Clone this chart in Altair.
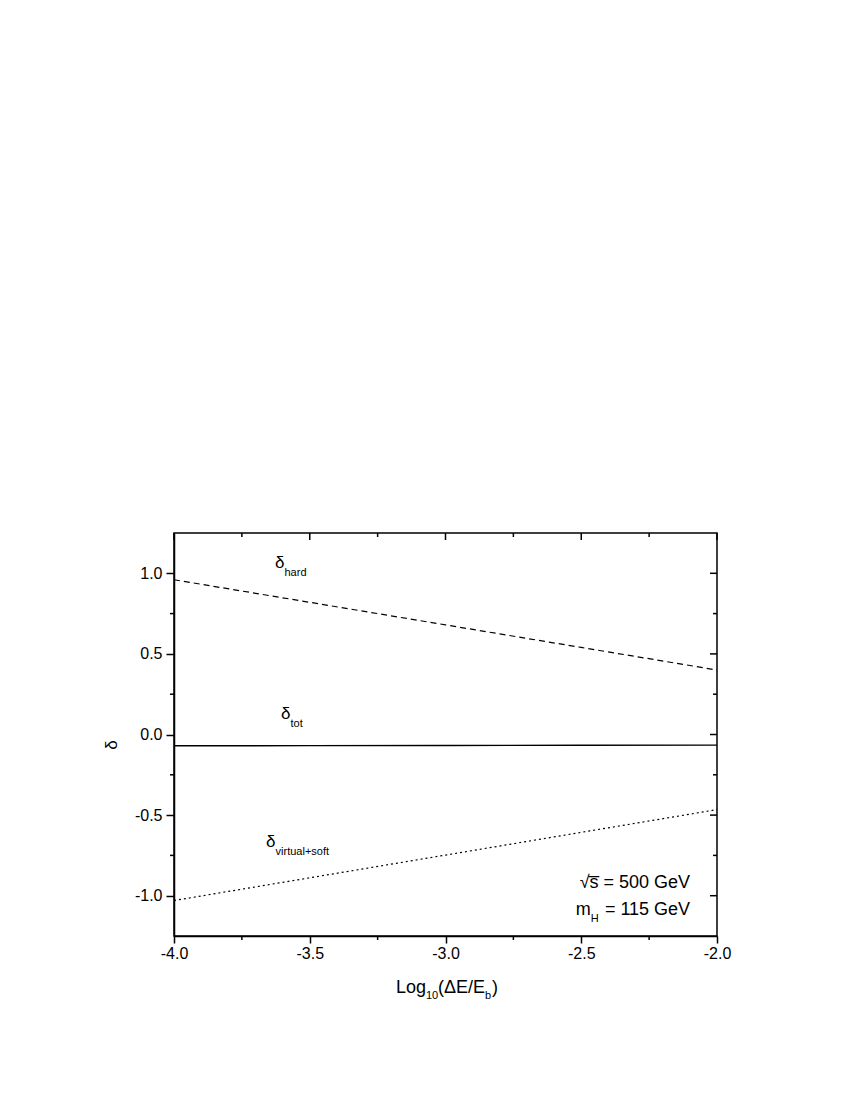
import altair as alt
import pandas as pd

# ---- data ----
x_vals = [-4.0, -3.5, -3.0, -2.5, -2.0]
delta_hard = [0.96, 0.82, 0.68, 0.54, 0.40]
delta_tot = [-0.070, -0.069, -0.068, -0.067, -0.066]
delta_vs = [-1.030, -0.889, -0.748, -0.607, -0.466]

x_major = [-4.0, -3.5, -3.0, -2.5, -2.0]
x_minor = [-3.75, -3.25, -2.75, -2.25]
y_major = [-1.0, -0.5, 0.0, 0.5, 1.0]
y_minor = [-0.75, -0.25, 0.25, 0.75]

label_main = ["δ", "δ", "δ"]
label_sub = ["hard", "tot", "virtual+soft"]
label_x = [-3.628, -3.606, -3.661]
label_y = [1.031, 0.095, -0.696]

FONT = "Liberation Sans"
W, H = 543, 403

df = pd.DataFrame({
    "x": x_vals * 3,
    "value": delta_hard + delta_tot + delta_vs,
    "series": ["hard"] * 5 + ["tot"] * 5 + ["vs"] * 5,
})

x_scale = alt.Scale(domain=[-4, -2], nice=False, zero=False)
y_scale = alt.Scale(domain=[-1.25, 1.25], nice=False, zero=False)

lab = "replace(format(datum.value, '.1f'), '\u2212', '-')"
x_axis = alt.Axis(values=x_major, tickSize=7, labelPadding=2, labelExpr=lab, title=None,
                  grid=False, labelFontSize=16, labelFlush=False, labelOverlap=False)
y_axis = alt.Axis(values=y_major, tickSize=8, labelPadding=4, labelExpr=lab, title=None,
                  grid=False, labelFontSize=16, labelFlush=False, labelOverlap=False)


def X(field):
    return alt.X(field, type="quantitative", scale=x_scale, axis=x_axis)


def Y(field):
    return alt.Y(field, type="quantitative", scale=y_scale, axis=y_axis)


base = alt.Chart(df)


def line(series, dash=None, width=1.2):
    kw = dict(color="black", strokeWidth=width)
    if dash:
        kw["strokeDash"] = dash
    return base.transform_filter(f"datum.series == '{series}'").mark_line(**kw).encode(
        x=X("x"), y=Y("value"))


l_hard = line("hard", [6, 4])
l_tot = line("tot", width=1.4)
l_vs = line("vs", [2, 3])

xmaj = pd.DataFrame({"xa": x_major})
xmin = pd.DataFrame({"xb": x_minor})
ymaj = pd.DataFrame({"ya": y_major})
ymin = pd.DataFrame({"yb": y_minor})

rk = dict(color="black", strokeWidth=1.5)

ticks = [
    alt.Chart(xmin).mark_rule(**rk).encode(x=X("xb"), y=alt.value(H), y2=alt.value(H + 4)),
    alt.Chart(xmaj).mark_rule(**rk).encode(x=X("xa"), y=alt.value(0), y2=alt.value(7)),
    alt.Chart(xmin).mark_rule(**rk).encode(x=X("xb"), y=alt.value(0), y2=alt.value(4)),
    alt.Chart(ymin).mark_rule(**rk).encode(y=Y("yb"), x=alt.value(-4), x2=alt.value(0)),
    alt.Chart(ymaj).mark_rule(**rk).encode(y=Y("ya"), x=alt.value(W - 7), x2=alt.value(W)),
    alt.Chart(ymin).mark_rule(**rk).encode(y=Y("yb"), x=alt.value(W - 4), x2=alt.value(W)),
]

lbl = pd.DataFrame({"m": label_main, "s": label_sub, "lx": label_x, "ly": label_y})
t_main = alt.Chart(lbl).mark_text(font=FONT, fontSize=17, align="left", baseline="alphabetic",
                                  color="black").encode(x=X("lx"), y=Y("ly"), text="m:N")
t_sub = alt.Chart(lbl).mark_text(font=FONT, fontSize=11, align="left", baseline="alphabetic",
                                 color="black", dx=9.5, dy=8).encode(x=X("lx"), y=Y("ly"), text="s:N")

ann = pd.DataFrame({
    "txt": ["\u221as\u0305 = 500 GeV", "= 115 GeV", "m"],
    "ax": [-2.099, -2.099, -2.52],
    "ay": [-0.952, -1.119, -1.119],
    "al": ["right", "right", "left"],
})
ann_r = alt.Chart(ann).transform_filter("datum.al == 'right'").mark_text(
    font=FONT, fontSize=18, align="right", baseline="alphabetic", color="black").encode(
    x=X("ax"), y=Y("ay"), text="txt:N")
ann_l = alt.Chart(ann).transform_filter("datum.al == 'left'").mark_text(
    font=FONT, fontSize=18, align="left", baseline="alphabetic", color="black").encode(
    x=X("ax"), y=Y("ay"), text="txt:N")
ann_h = alt.Chart(ann).transform_filter("datum.al == 'left'").mark_text(
    font=FONT, fontSize=11, align="left", baseline="alphabetic", color="black", dx=15, dy=7).encode(
    x=X("ax"), y=Y("ay"), text=alt.value("H"))

# x axis title composed of pieces (for subscripts); positions in plot pixels
one = pd.DataFrame({"a": [0]})


def piece(txt, px, py, fs):
    return alt.Chart(one).mark_text(font=FONT, fontSize=fs, align="left", baseline="alphabetic",
                                    color="black").encode(
        x=alt.value(px), y=alt.value(py), text=alt.value(txt))


xtitle = [
    piece("Log", 222, 460, 18),
    piece("10", 252, 466, 11),
    piece("(\u0394E/E", 264, 460, 18),
    piece("b", 311, 466, 11),
    piece(")", 318, 460, 18),
]

ytitle = alt.Chart(one).mark_text(
    font=FONT, fontSize=17, angle=270, align="center", baseline="middle", color="black").encode(
    x=alt.value(-62), y=alt.value(212), text=alt.value("δ"))

chart = alt.layer(
    l_hard, l_tot, l_vs, *ticks, t_main, t_sub, ann_r, ann_l, ann_h, *xtitle, ytitle
).properties(
    width=W, height=H,
    autosize=alt.AutoSizeParams(type="none"),
    padding={"left": 166, "top": 525, "right": 120, "bottom": 150},
).configure_view(
    stroke="black", strokeWidth=1.5
).configure_axis(
    grid=False, domainColor="black", domainWidth=1.5, tickColor="black", tickWidth=1.5,
    labelColor="black", labelFont=FONT, labelFontSize=16,
)

chart.save("out.html", embed_options={"renderer": "svg", "actions": False})
